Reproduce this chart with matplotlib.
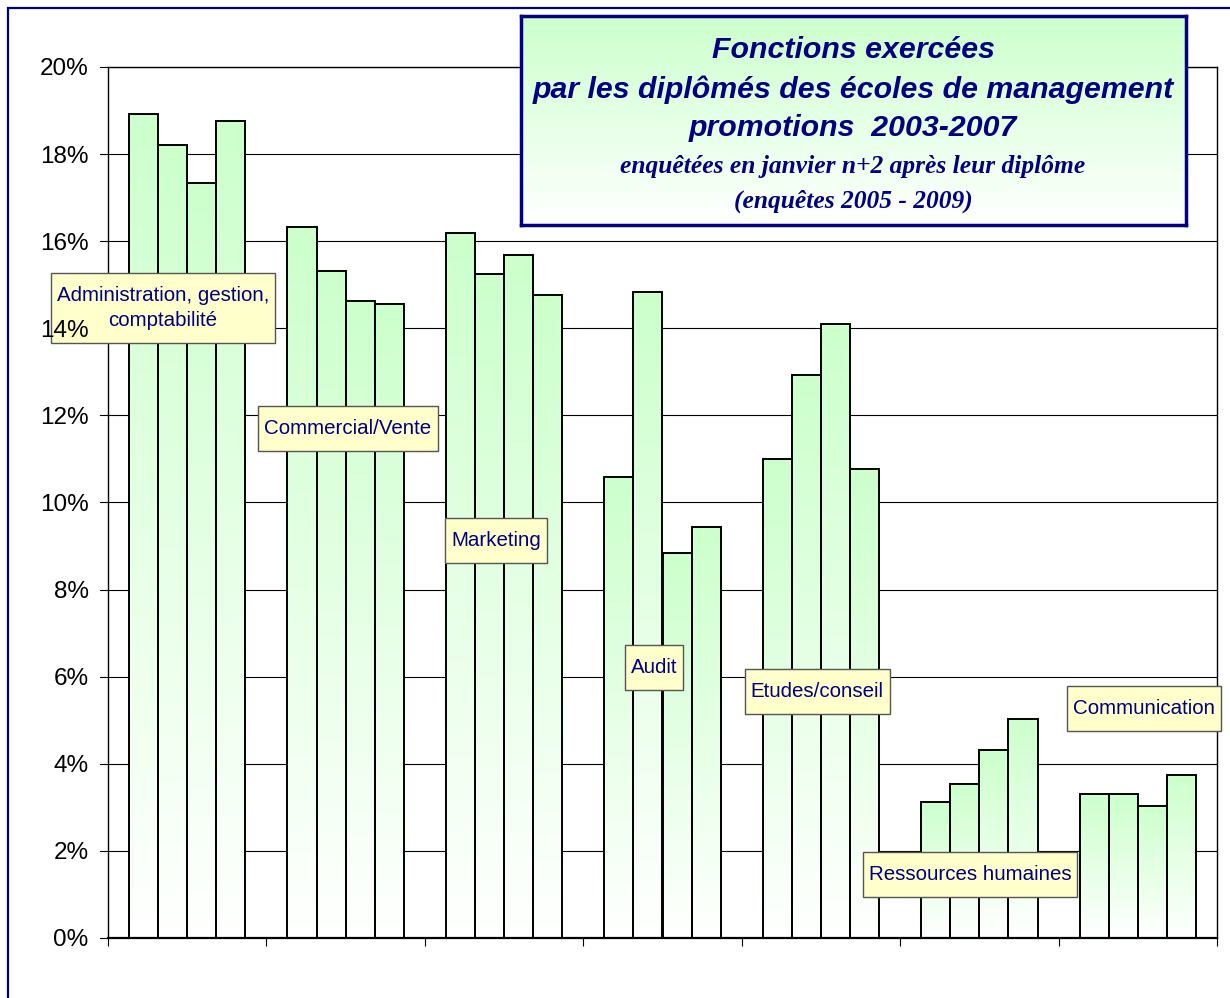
import numpy as np
import matplotlib
matplotlib.use('Agg')
import matplotlib.pyplot as plt
from matplotlib.patches import Rectangle
from matplotlib.ticker import FuncFormatter

# data (share of graduates, %)
functions = ['Administration, gestion,\ncomptabilité', 'Commercial/Vente', 'Marketing',
             'Audit', 'Etudes/conseil', 'Ressources humaines', 'Communication']
promo2003 = [18.91, 16.33, 16.19, 10.59, 11.00, 3.13, 3.31]
promo2004 = [18.21, 15.32, 15.25, 14.83, 12.93, 3.54, 3.31]
promo2005 = [17.34, 14.63, 15.68, 8.84, 14.10, 4.31, 3.02]
promo2006 = [18.77, 14.55, 14.76, 9.44, 10.77, 5.03, 3.74]
yTicks = [0, 2, 4, 6, 8, 10, 12, 14, 16, 18, 20]

# label anchors in data units (group index, value)
labelX = [0.347, 1.515, 2.45, 3.447, 4.476, 5.44, 6.54]
labelY = [14.47, 11.69, 9.12, 6.22, 5.65, 1.45, 5.28]

navy = '#000080'
green = np.array([0.80, 1.0, 0.80])
white = np.array([1.0, 1.0, 1.0])

def gradientImage(n=256):
    t = np.linspace(0, 1, n)[:, None]
    img = white + (green - white) * t[..., None]
    return img  # row 0 = bottom (origin lower)

fig = plt.figure(figsize=(12.3, 9.98), dpi=100)

ax = fig.add_axes([108 / 1230, 1 - 938 / 998, (1217 - 108) / 1230, (938 - 67) / 998])
ax.set_xlim(0, 7)
ax.set_ylim(0, 20)

# gridlines and y tick marks drawn by hand, under the label boxes,
# so the tick labels can sit above the boxes while the marks stay hidden
yTrans = ax.get_yaxis_transform()
for v in yTicks:
    ax.axhline(v, color='black', linewidth=0.8, zorder=0.5)
    ax.plot([-8 / 1109, 0], [v, v], transform=yTrans, color='black',
            linewidth=0.8, zorder=0.5, clip_on=False)

series = [promo2003, promo2004, promo2005, promo2006]
barW = 0.1835
start = (1 - 4 * barW) / 2
grad = gradientImage()
for i in range(len(functions)):
    for j, s in enumerate(series):
        x0 = i + start + j * barW
        h = s[i]
        ax.imshow(grad, extent=[x0, x0 + barW, 0, h], origin='lower',
                  aspect='auto', zorder=2, interpolation='bilinear')
        ax.add_patch(Rectangle((x0, 0), barW, h, facecolor='none',
                               edgecolor='black', linewidth=1.4, zorder=3))
ax.set_xlim(0, 7)
ax.set_ylim(0, 20)

ax.set_yticks(yTicks)
ax.yaxis.set_major_formatter(FuncFormatter(lambda v, p: f'{int(v)}%'))
ax.set_xticks(range(0, 8))
ax.set_xticklabels([])
ax.tick_params(axis='y', direction='out', length=0, pad=14,
               labelsize=17.5, colors='black')
ax.tick_params(axis='x', direction='out', length=6, width=0.8)
ax.yaxis.set_zorder(6)
for sp in ax.spines.values():
    sp.set_color('black')
    sp.set_linewidth(1.0)
ax.spines['bottom'].set_linewidth(1.6)
for lbl in ax.get_yticklabels():
    lbl.set_family(['Liberation Sans', 'DejaVu Sans'])

labelTexts = []
for i, name in enumerate(functions):
    t = ax.text(labelX[i], labelY[i], name, ha='center', va='center',
                multialignment='center', fontsize=14.8, color=navy,
                linespacing=1.4,
                family=['Liberation Sans', 'DejaVu Sans'], zorder=5)
    labelTexts.append(t)

# yellow boxes behind the labels, with more room above/below than at the sides
fig.canvas.draw()
renderer = fig.canvas.get_renderer()
inv = ax.transData.inverted()
for t in labelTexts:
    bb = t.get_window_extent(renderer)
    (dx0, dy0) = inv.transform((bb.x0 - 6, bb.y0 - 13))
    (dx1, dy1) = inv.transform((bb.x1 + 6, bb.y1 + 13))
    ax.add_patch(Rectangle((dx0, dy0), dx1 - dx0, dy1 - dy0, facecolor='#FFFFCC',
                           edgecolor='#555555', linewidth=1.0, zorder=4.5,
                           clip_on=False))

# title box with green gradient
tax = fig.add_axes([521 / 1230, 1 - 225 / 998, (1186 - 521) / 1230, (225 - 16) / 998])
tax.imshow(gradientImage(), extent=[0, 1, 0, 1], origin='lower', aspect='auto')
tax.set_xlim(0, 1)
tax.set_ylim(0, 1)
tax.set_xticks([])
tax.set_yticks([])
for sp in tax.spines.values():
    sp.set_color(navy)
    sp.set_linewidth(2.5)

titleLines = ['Fonctions exercées', 'par les diplômés des écoles de management',
              'promotions  2003-2007']
titleY = [50, 90, 128]
for line, py in zip(titleLines, titleY):
    fig.text(853 / 1230, 1 - py / 998, line, ha='center', va='center',
             fontsize=21.8, fontweight='bold', fontstyle='italic', color=navy,
             family=['Liberation Sans', 'DejaVu Sans'])
subLines = ['enquêtées en janvier n+2 après leur diplôme', '(enquêtes 2005 - 2009)']
subY = [166, 201]
for line, py in zip(subLines, subY):
    fig.text(853 / 1230, 1 - py / 998, line, ha='center', va='center',
             fontsize=18.4, fontweight='bold', fontstyle='italic', color=navy,
             family=['Liberation Serif', 'DejaVu Serif'])

# outer frame
fig.patches.append(Rectangle((8 / 1230, -0.05), 1.1, 1 - 8 / 998 + 0.05,
                             transform=fig.transFigure, facecolor='none',
                             edgecolor=navy, linewidth=1.6))

fig.savefig('out.png', dpi=100)
